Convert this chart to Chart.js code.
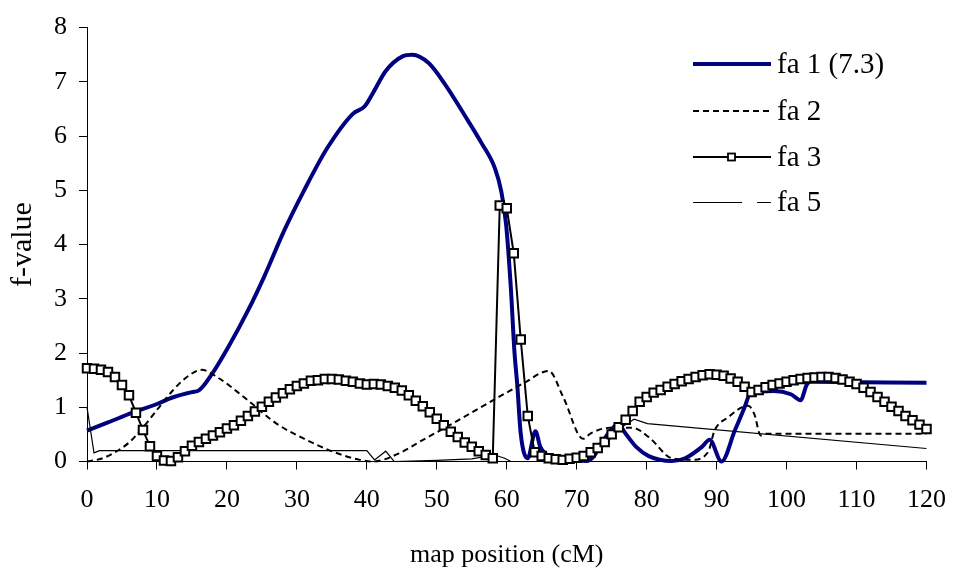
<!DOCTYPE html>
<html>
<head>
<meta charset="utf-8">
<script src="https://cdn.jsdelivr.net/npm/chart.js@4.4.1/dist/chart.umd.min.js"></script>
<style>
  html, body { margin: 0; padding: 0; background: #fff; }
  #wrap { width: 961px; height: 571px; }
</style>
</head>
<body>
<div id="wrap"><canvas id="chart" width="961" height="571"></canvas></div>
<script>
// map positions (cM) and f-values
const fa1X = [0, 3, 6.5, 10, 12.2, 15, 16, 17.8, 20.2, 23, 25.3, 28.2, 31, 34.3, 38, 39.7, 40.9, 42.7, 45.1, 46.5, 48.8, 51.2, 54, 56.4, 58.3, 59.2, 59.9, 60.6, 61.1, 61.5, 62, 63, 64.1, 64.8, 66.2, 68.6, 71.4, 72.4, 73.8, 75.2, 75.9, 77, 78.5, 80.3, 83.6, 85.5, 87.9, 89, 90.7, 92.6, 94, 94.9, 98.2, 100.6, 102, 102.9, 103.4, 120];
const fa1Y = [0.57, 0.72, 0.90, 1.06, 1.18, 1.28, 1.31, 1.60, 2.11, 2.78, 3.40, 4.26, 4.99, 5.77, 6.41, 6.55, 6.80, 7.20, 7.47, 7.50, 7.35, 6.95, 6.38, 5.87, 5.41, 4.99, 4.38, 3.17, 2.02, 1.42, 0.51, 0.06, 0.56, 0.27, 0.09, 0.03, 0.01, 0.09, 0.39, 0.62, 0.69, 0.51, 0.27, 0.10, 0.01, 0.06, 0.27, 0.40, 0.0, 0.57, 1.0, 1.27, 1.30, 1.24, 1.13, 1.42, 1.47, 1.45];

const fa2X = [0, 2, 3.7, 6.1, 8.4, 10.3, 12.2, 14.1, 16.4, 18.8, 22.5, 27.2, 31.5, 35.2, 39, 40.9, 44.6, 47.9, 51.7, 55.9, 59.7, 62.5, 66, 68.1, 70.9, 72, 74.7, 78, 80.3, 83.6, 86.5, 88.8, 89.7, 91.6, 94.5, 95.4, 96.3, 97, 120];
const fa2Y = [0, 0.05, 0.15, 0.36, 0.69, 1.0, 1.30, 1.54, 1.69, 1.54, 1.18, 0.69, 0.39, 0.18, 0.03, 0.0, 0.15, 0.39, 0.66, 0.97, 1.25, 1.45, 1.67, 1.18, 0.42, 0.52, 0.62, 0.62, 0.45, 0.06, 0.03, 0.18, 0.57, 0.81, 1.03, 0.87, 0.48, 0.51, 0.51];

const fa3X = [0, 1, 2, 3, 4, 5, 6, 7, 8, 9, 10, 11, 12, 13, 14, 15, 16, 17, 18, 19, 20,
  21, 22, 23, 24, 25, 26, 27, 28, 29, 30, 31, 32, 33, 34, 35, 36, 37, 38, 39, 40,
  41, 42, 43, 44, 45, 46, 47, 48, 49, 50, 51, 52, 53, 54, 55, 56, 57, 58, 59, 60,
  61, 62, 63, 64, 65, 66, 67, 68, 69, 70, 71, 72, 73, 74, 75, 76, 77, 78, 79, 80,
  81, 82, 83, 84, 85, 86, 87, 88, 89, 90, 91, 92, 93, 94, 95, 96, 97, 98, 99, 100,
  101, 102, 103, 104, 105, 106, 107, 108, 109, 110, 111, 112, 113, 114, 115, 116, 117, 118, 119, 120];
const fa3Y = [1.72, 1.71, 1.69, 1.65, 1.56, 1.41, 1.22, 0.90, 0.58, 0.28, 0.10,
  0.02, 0.01, 0.08, 0.19, 0.29, 0.36, 0.42, 0.48, 0.54, 0.61,
  0.67, 0.75, 0.84, 0.92, 1.01, 1.10, 1.18, 1.26, 1.33, 1.39,
  1.44, 1.49, 1.50, 1.52, 1.52, 1.51, 1.49, 1.47, 1.44, 1.42,
  1.43, 1.42, 1.39, 1.36, 1.31, 1.22, 1.12, 1.02, 0.91, 0.79,
  0.67, 0.55, 0.45, 0.35, 0.27, 0.19, 0.12, 0.06, 4.72, 4.67,
  3.84, 2.25, 0.84, 0.17, 0.10, 0.06, 0.04, 0.03, 0.05, 0.07,
  0.10, 0.17, 0.25, 0.36, 0.50, 0.63, 0.77, 0.93, 1.10, 1.19,
  1.27, 1.32, 1.38, 1.43, 1.48, 1.52, 1.56, 1.59, 1.61, 1.60,
  1.58, 1.53, 1.47, 1.38, 1.28, 1.32, 1.37, 1.41, 1.44, 1.47,
  1.50, 1.52, 1.54, 1.55, 1.56, 1.56, 1.54, 1.51, 1.47, 1.43,
  1.36, 1.28, 1.19, 1.10, 1.01, 0.93, 0.84, 0.76, 0.68, 0.60];

const fa5X = [0, 1.0, 1.8, 40, 41.1, 42.7, 43.9, 50, 55, 58.3, 59.7, 60.6, 71, 74, 76, 78.2, 80.1, 120];
const fa5Y = [1.0, 0.16, 0.20, 0.20, 0.03, 0.19, 0.0, 0.02, 0.05, 0.12, 0.06, 0.0, 0.0, 0.3, 0.6, 0.78, 0.70, 0.24];

const xTicks = [0, 10, 20, 30, 40, 50, 60, 70, 80, 90, 100, 110, 120];
const yTicks = [0, 1, 2, 3, 4, 5, 6, 7, 8];

const FONT = '"Liberation Serif", "Times New Roman", serif';
const NAVY = '#000080';

function pts(xs, ys) {
  return xs.map((x, i) => ({ x: x, y: ys[i] }));
}

// legend drawn inside the plot, upper right, like the original
const legendPlugin = {
  id: 'innerLegend',
  afterDraw(chart) {
    const ctx = chart.ctx;
    const rows = [64, 111, 157, 202];
    const x0 = 693, x1 = 771, tx = 777;
    ctx.save();
    ctx.font = '29px ' + FONT;
    ctx.textBaseline = 'middle';
    ctx.textAlign = 'left';
    chart.data.datasets.forEach((ds, i) => {
      const y = rows[i];
      ctx.strokeStyle = ds.borderColor;
      ctx.lineWidth = ds.borderWidth;
      ctx.setLineDash(ds.borderDash || []);
      ctx.beginPath();
      if (ds.label === 'fa 5') {
        ctx.moveTo(x0, y + 0.5); ctx.lineTo(742, y + 0.5);
        ctx.moveTo(757, y + 0.5); ctx.lineTo(x1, y + 0.5);
      } else {
        ctx.moveTo(x0, y); ctx.lineTo(x1, y);
      }
      ctx.stroke();
      ctx.setLineDash([]);
      if (ds.pointRadius > 0) {
        ctx.fillStyle = '#fff';
        ctx.lineWidth = 1.8;
        ctx.fillRect(728, y - 3.5, 7, 7);
        ctx.strokeRect(728, y - 3.5, 7, 7);
      }
      ctx.fillStyle = '#000';
      ctx.fillText(ds.label, tx, y + 1);
    });
    ctx.restore();
  }
};

new Chart(document.getElementById('chart').getContext('2d'), {
  type: 'line',
  data: {
    datasets: [
      { label: 'fa 1 (7.3)', data: pts(fa1X, fa1Y), borderColor: NAVY, borderWidth: 4, pointRadius: 0, cubicInterpolationMode: 'monotone', order: 4, clip: 8 },
      { label: 'fa 2', data: pts(fa2X, fa2Y), borderColor: '#000', borderWidth: 2, borderDash: [6, 4], pointRadius: 0, cubicInterpolationMode: 'monotone', order: 3, clip: 8 },
      { label: 'fa 3', data: pts(fa3X, fa3Y), borderColor: '#000', borderWidth: 2, pointRadius: 6, pointStyle: 'rect', pointBackgroundColor: '#fff', pointBorderColor: '#000', pointBorderWidth: 2, tension: 0, order: 1, clip: 8 },
      { label: 'fa 5', data: pts(fa5X, fa5Y), borderColor: '#000', borderWidth: 1.2, pointRadius: 0, tension: 0, order: 2, clip: 8 }
    ]
  },
  options: {
    responsive: false,
    animation: false,
    events: [],
    layout: { padding: { top: 20, right: 23, left: 0, bottom: 0 } },
    plugins: { legend: { display: false }, tooltip: { enabled: false } },
    scales: {
      x: {
        type: 'linear', min: 0, max: 120,
        afterBuildTicks: s => { s.ticks = xTicks.map(v => ({ value: v })); },
        afterFit: s => { s.height = 109.5; },
        ticks: { color: '#000', padding: 15, maxRotation: 0, font: { family: FONT, size: 26 } },
        grid: { display: true, drawOnChartArea: false, drawTicks: true, tickLength: 8, color: '#000' },
        border: { color: '#000', width: 1 },
        title: { display: true, text: 'map position (cM)', color: '#000', padding: { top: 0, bottom: 0 }, font: { family: FONT, size: 26 } }
      },
      y: {
        min: 0, max: 8,
        afterBuildTicks: s => { s.ticks = yTicks.map(v => ({ value: v })); },
        afterFit: s => { s.width = 87; },
        ticks: { color: '#000', padding: 12, font: { family: FONT, size: 26 } },
        grid: { display: true, drawOnChartArea: false, drawTicks: true, tickLength: 8, color: '#000' },
        border: { color: '#000', width: 1 },
        title: { display: true, text: 'f-value', color: '#000', padding: { top: 5, bottom: 0 }, font: { family: FONT, size: 30 } }
      }
    }
  },
  plugins: [legendPlugin]
});
</script>
</body>
</html>
